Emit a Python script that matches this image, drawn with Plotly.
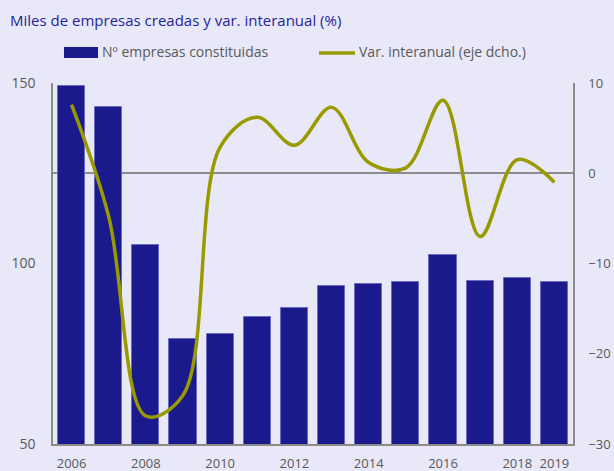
import plotly.graph_objects as go

years = [2006, 2007, 2008, 2009, 2010, 2011, 2012, 2013, 2014, 2015, 2016, 2017, 2018, 2019]
empresas = [149.2, 143.4, 105.1, 79.2, 80.6, 85.3, 87.8, 93.8, 94.4, 94.9, 102.4, 95.2, 96.0, 94.9]
var_interanual = [7.6, -4.8, -26.9, -24.6, 2.9, 6.2, 3.1, 7.3, 1.2, 0.6, 8.1, -7.0, 1.5, -1.0]
x_ticks = [2006, 2008, 2010, 2012, 2014, 2016, 2018, 2019]
left_ticks = [50, 100, 150]
right_ticks = [-30, -20, -10, 0, 10]

BG = "#E8E8F8"
BAR = "#1A1A8C"
LINE = "#999900"
GRAY = "#595959"
FONT = "Open Sans"

W, H = 614, 471
ML, MR, MT, MB = 53, 41, 83, 27
PW, PH = W - ML - MR, H - MT - MB

def px(x):
    return (x - ML) / PW

def py(y):
    return (H - MB - y) / PH

fig = go.Figure()
fig.add_trace(go.Bar(x=years, y=empresas, marker=dict(color=BAR, line=dict(color="#6A6AC0", width=1)),
                     width=0.73, name="Nº empresas constituidas", showlegend=False))
fig.add_trace(go.Scatter(x=years, y=var_interanual, yaxis="y2", mode="lines",
                         line=dict(color=LINE, width=3.5, shape="spline", smoothing=1.0),
                         name="Var. interanual (eje dcho.)", showlegend=False))

fig.update_layout(
    width=W, height=H,
    margin=dict(l=ML, r=MR, t=MT, b=MB, pad=0, autoexpand=False),
    paper_bgcolor=BG, plot_bgcolor=BG,
    font=dict(family=FONT, color=GRAY, size=14),
    bargap=0,
    xaxis=dict(range=[2005.5, 2019.5], tickmode="array", tickvals=x_ticks,
               ticktext=[str(v) for v in x_ticks], showgrid=False, zeroline=False,
               showline=True, linecolor="#8C8C8C", linewidth=1.5, automargin=False,
               ticks="outside", ticklen=7, tickcolor="rgba(0,0,0,0)",
               tickfont=dict(size=13, color=GRAY)),
    yaxis=dict(range=[50, 150], tickvals=left_ticks, showgrid=False, zeroline=False,
               showline=True, linecolor="#8C8C8C", linewidth=1.5, automargin=False,
               ticks="outside", ticklen=13, tickcolor="rgba(0,0,0,0)",
               tickfont=dict(size=14, color=GRAY)),
    yaxis2=dict(range=[-30, 10], tickvals=right_ticks, overlaying="y", side="right",
                showgrid=False, zeroline=True, zerolinecolor="#8C8C8C", zerolinewidth=1.5,
                showline=True, linecolor="#8C8C8C", linewidth=1.5, automargin=False,
                ticks="outside", ticklen=11, tickcolor="rgba(0,0,0,0)",
                tickfont=dict(size=13, color=GRAY)),
    showlegend=False,
)

# Subtitle
fig.add_annotation(text="Miles de empresas creadas y var. interanual (%)", xref="paper", yref="paper",
                   x=px(8), y=py(20), xanchor="left", yanchor="middle", showarrow=False,
                   font=dict(family=FONT, size=15, color="#1F1F99"))

# Legend (custom)
fig.add_shape(type="rect", xref="paper", yref="paper", x0=px(64), x1=px(98), y0=py(58), y1=py(47),
              fillcolor=BAR, line=dict(width=0))
fig.add_annotation(text="Nº empresas constituidas", xref="paper", yref="paper",
                   x=px(100), y=py(52), xanchor="left", yanchor="middle", showarrow=False,
                   font=dict(family=FONT, size=14, color=GRAY))
fig.add_shape(type="line", xref="paper", yref="paper", x0=px(319), x1=px(355), y0=py(53), y1=py(53),
              line=dict(color=LINE, width=3.5))
fig.add_annotation(text="Var. interanual (eje dcho.)", xref="paper", yref="paper",
                   x=px(357), y=py(52), xanchor="left", yanchor="middle", showarrow=False,
                   font=dict(family=FONT, size=14, color=GRAY))

fig.write_html("out.html", config={"displayModeBar": False},
               post_script="document.body.style.margin='0';document.body.style.overflow='hidden';")
